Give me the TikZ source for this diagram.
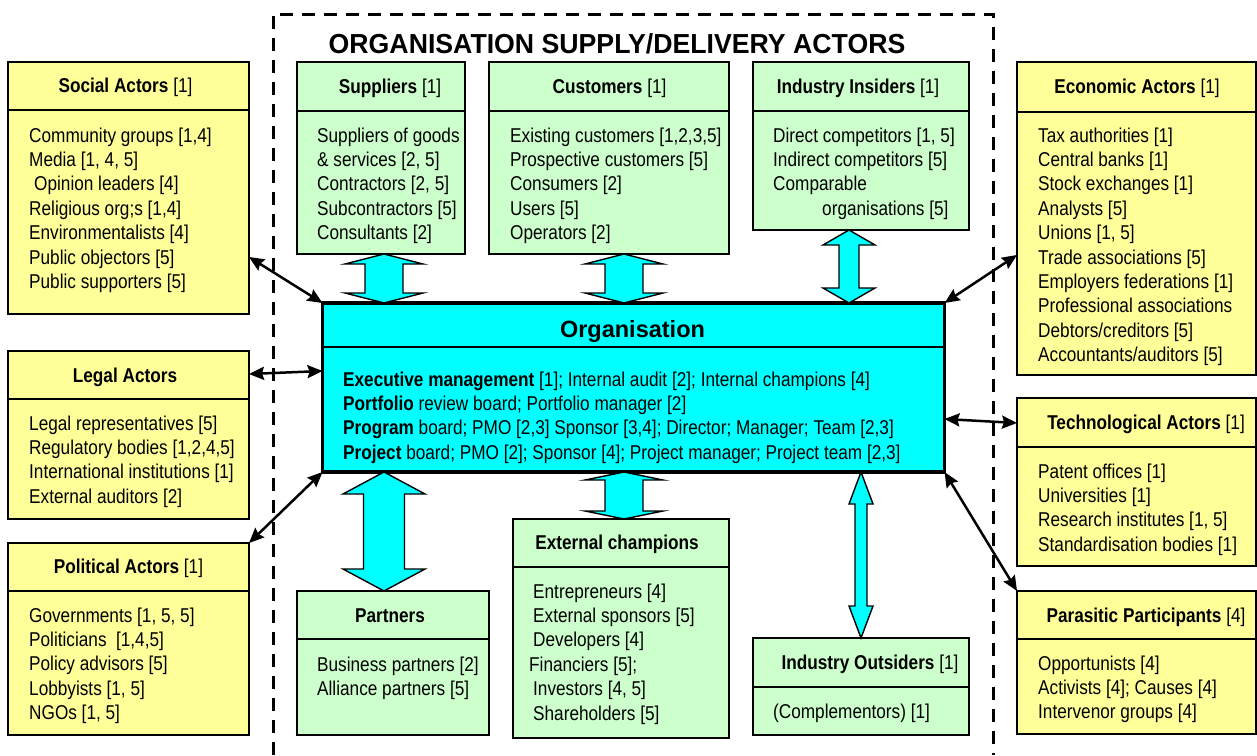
\documentclass[tikz,border=0pt]{standalone}
\usepackage{fontspec}
\setmainfont{Liberation Sans}[FakeStretch=0.86]
\newfontfamily\titlefont{Liberation Sans}[FakeStretch=0.97]
\newfontfamily\orgfont{Liberation Sans}
\usetikzlibrary{arrows.meta,calc}

\definecolor{yel}{HTML}{FFFF99}
\definecolor{grn}{HTML}{CCFFCC}
\definecolor{cy}{HTML}{00FFFF}

% a framed box with a header strip: name, fill, x1, y1, x2, y of header rule, y2
\newcommand\panel[7]{%
  \node[panel, fill=#2, minimum width={#5-#3}, minimum height={#7-#4}] (#1) at (#3,#4) {};
  \draw[rule] (#3,#6) -- (#5,#6);}

% list of body lines: name prefix, x, first baseline, {{line},{line},...}
\newcommand\bodylines[4]{%
  \foreach \itm [count=\i] in {#4}{%
    \node[txt, anchor=base west] (#1-\i) at ({#2},{#3+24.4*(\i-1)}) {\itm};}}

% cyan double block arrow: top tip, bottom tip, shaft half width, head half width, head length
\newcommand\blockarrow[5]{%
  \draw[barrow] let \p1=(#1), \p2=(#2) in
    (\x1,\y1) -- (\x1+#4pt,\y1-#5pt) -- (\x1+#3pt,\y1-#5pt) -- (\x1+#3pt,\y2+#5pt)
    -- (\x1+#4pt,\y2+#5pt) -- (\x1,\y2) -- (\x1-#4pt,\y2+#5pt) -- (\x1-#3pt,\y2+#5pt)
    -- (\x1-#3pt,\y1-#5pt) -- (\x1-#4pt,\y1-#5pt) -- cycle;}

\tikzset{
  panel/.style={draw, line width=1.6pt, anchor=north west, inner sep=0pt, outer sep=0pt},
  rule/.style={line width=1.6pt},
  txt/.style={inner sep=0pt, font=\fontsize{20}{24.4}\selectfont},
  hdr/.style={inner sep=0pt, anchor=base, font=\fontsize{20}{24.4}\selectfont},
  barrow/.style={draw=black, fill=cy, line width=1.4pt, line join=miter},
  link/.style={line width=2.5pt, {Stealth[length=15pt,width=13pt,inset=2pt]}-{Stealth[length=15pt,width=13pt,inset=2pt]}},
  frame/.style={line width=3pt, dash pattern=on 13pt off 9pt},
}

\begin{document}
\begin{tikzpicture}[x=1pt,y=-1pt]
\useasboundingbox[fill=white] (0,0) rectangle (1257,755);

% dashed frame of the supply/delivery actors
\draw[frame] (273,755) -- (273,14) -- (993,14) -- (993,755);
\node[anchor=base, inner sep=0pt, font=\titlefont\bfseries\fontsize{27.5}{32}\selectfont] (title) at (617,53)
  {ORGANISATION SUPPLY/DELIVERY ACTORS};

% boxes
\panel{soc}{yel}{8}{62}{249}{110}{314}
\panel{sup}{grn}{297}{62}{465}{111}{254}
\panel{cus}{grn}{489}{62}{729}{111}{254}
\panel{ins}{grn}{753}{62}{969}{111}{230}
\panel{eco}{yel}{1017}{62}{1256}{112}{375}
\panel{leg}{yel}{8}{351}{249}{399}{519}
\panel{pol}{yel}{8}{543}{249}{591}{735}
\panel{prt}{grn}{297}{591}{489}{639}{735}
\panel{ext}{grn}{513}{519}{729}{567}{738}
\panel{out}{grn}{753}{638}{969}{687}{735}
\panel{tec}{yel}{1017}{398}{1256}{447}{566}
\panel{par}{yel}{1017}{591}{1256}{639}{734}

% the organisation
\node[panel, line width=3.5pt, fill=cy, minimum width=622, minimum height=169] (org) at (322.5,303) {};
\draw[line width=1.4pt] (322.5,347) -- (944.5,347);
\node[anchor=base, inner sep=0pt, font=\orgfont\bfseries\fontsize{23.5}{28}\selectfont] (org-t) at (632.5,337) {Organisation};
\bodylines{org}{343}{386}{{\textbf{Executive management} [1]; Internal audit [2]; Internal champions [4]},
  {\textbf{Portfolio} review board; Portfolio manager [2]},
  {\textbf{Program} board; PMO [2,3] Sponsor [3,4]; Director; Manager; Team [2,3]},
  {\textbf{Project} board; PMO [2]; Sponsor [4]; Project manager; Project team [2,3]}}

% headers
\node[hdr] (soc-t) at (125.5,92) {\textbf{Social Actors} [1]};
\node[hdr] (sup-t) at (390,93) {\textbf{Suppliers} [1]};
\node[hdr] (cus-t) at (609.5,93) {\textbf{Customers} [1]};
\node[hdr] (ins-t) at (858,93) {\textbf{Industry Insiders} [1]};
\node[hdr] (eco-t) at (1137,93) {\textbf{Economic Actors} [1]};
\node[hdr] (leg-t) at (125,382) {\textbf{Legal Actors}};
\node[hdr] (pol-t) at (128.5,573) {\textbf{Political Actors} [1]};
\node[hdr] (prt-t) at (390,622) {\textbf{Partners}};
\node[hdr] (ext-t) at (617,549) {\textbf{External champions}};
\node[hdr] (out-t) at (870,669) {\textbf{Industry Outsiders} [1]};
\node[hdr] (tec-t) at (1146,429) {\textbf{Technological Actors} [1]};
\node[hdr] (par-t) at (1146,622) {\textbf{Parasitic Participants} [4]};

% box contents
\bodylines{soc}{29}{142}{{Community groups [1,4]},{Media [1, 4, 5]},{\hspace{5pt}Opinion leaders [4]},
  {Religious org;s [1,4]},{Environmentalists [4]},{Public objectors [5]},{Public supporters [5]}}
\bodylines{sup}{317}{142}{{Suppliers of goods},{\& services [2, 5]},{Contractors [2, 5]},
  {Subcontractors [5]},{Consultants [2]}}
\bodylines{cus}{510}{142}{{Existing customers [1,2,3,5]},{Prospective customers [5]},{Consumers [2]},
  {Users [5]},{Operators [2]}}
\bodylines{ins}{773}{142}{{Direct competitors [1, 5]},{Indirect competitors [5]},{Comparable},
  {\hspace{49pt}organisations [5]}}
\bodylines{eco}{1038}{142}{{Tax authorities [1]},{Central banks [1]},{Stock exchanges [1]},{Analysts [5]},
  {Unions [1, 5]},{Trade associations [5]},{Employers federations [1]},{Professional associations},
  {Debtors/creditors [5]},{Accountants/auditors [5]}}
\bodylines{leg}{29}{430}{{Legal representatives [5]},{Regulatory bodies [1,2,4,5]},
  {International institutions [1]},{External auditors [2]}}
\bodylines{pol}{29}{622}{{Governments [1, 5, 5]},{Politicians\hspace{9.5pt}[1,4,5]},{Policy advisors [5]},
  {Lobbyists [1, 5]},{NGOs [1, 5]}}
\bodylines{prt}{317}{671}{{Business partners [2]},{Alliance partners [5]}}
\bodylines{ext}{529}{598}{{\hspace{4pt}Entrepreneurs [4]},{\hspace{4pt}External sponsors [5]},
  {\hspace{4pt}Developers [4]},{Financiers [5];},{\hspace{4pt}Investors [4, 5]},{\hspace{4pt}Shareholders [5]}}
\bodylines{out}{773}{718}{{(Complementors) [1]}}
\bodylines{tec}{1038}{478}{{Patent offices [1]},{Universities [1]},{Research institutes [1, 5]},
  {Standardisation bodies [1]}}
\bodylines{par}{1038}{670}{{Opportunists [4]},{Activists [4]; Causes [4]},{Intervenor groups [4]}}

% block arrows between the organisation and its supply/delivery actors
\blockarrow{[xshift=3pt]sup.south}{org.north}{19}{39}{10}
\blockarrow{[xshift=15pt]cus.south}{org.north}{19}{39}{10}
\blockarrow{[xshift=-12pt]ins.south}{org.north}{10}{26}{15}
\blockarrow{[xshift=-9pt]prt.north |- org.south}{prt.north}{20.5}{41}{22}
\blockarrow{[xshift=3pt]ext.north |- org.south}{ext.north}{19}{39}{8}
\blockarrow{out.north |- org.south}{out.north}{6}{12}{32}

% links to the environment actors
\draw[link] ([yshift=-69pt]soc.east) -- (org.north west);
\draw[link] ([yshift=61pt]leg.east) -- ([yshift=16.5pt]org.west);
\draw[link] (pol.north east) -- (org.south west);
\draw[link] (org.north east) -- ([yshift=-36.5pt]eco.west);
\draw[link] ([yshift=-31.5pt]org.east) -- ([yshift=59pt]tec.west);
\draw[link] (org.south east) -- (par.north west);
\end{tikzpicture}
\end{document}
